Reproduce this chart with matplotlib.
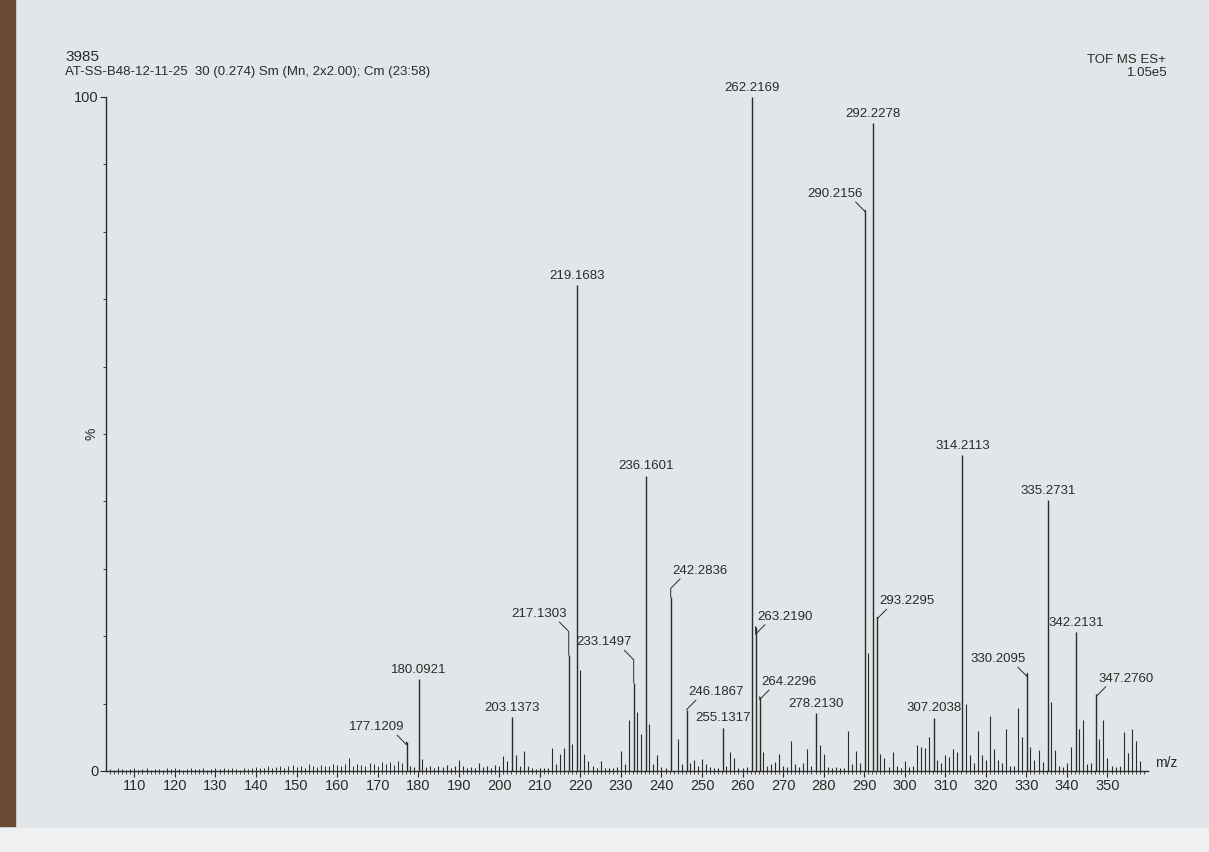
import numpy as np
import matplotlib
matplotlib.use('Agg')
import matplotlib.pyplot as plt
from matplotlib.patches import Rectangle

plt.rcParams['font.family'] = ['Liberation Sans', 'DejaVu Sans']

# labelled peaks: m/z label text and relative intensity (%)
peak_labels = ['177.1209', '180.0921', '203.1373', '217.1303', '219.1683',
               '233.1497', '236.1601', '242.2836', '246.1867', '255.1317',
               '262.2169', '263.2190', '264.2296', '278.2130', '290.2156',
               '292.2278', '293.2295', '307.2038', '314.2113', '330.2095',
               '335.2731', '342.2131', '347.2760']
peak_mz = [float(s) for s in peak_labels]
peak_int = [4.3, 13.6, 8.0, 17.2, 72.1,
            13.1, 43.8, 25.8, 9.1, 6.4,
            100.0, 21.4, 11.0, 8.6, 83.2,
            96.1, 22.8, 7.9, 46.9, 14.5,
            40.2, 20.6, 11.3]

# smaller unlabelled peaks
minor_mz = [178, 179, 181, 182, 183, 184, 185, 186, 187, 188, 189, 190, 191,
            192, 193, 194, 195, 196, 197, 198, 199, 200, 201, 202, 204, 205,
            206, 207, 208, 209, 210, 211, 212, 213, 214, 215, 216, 218, 220,
            221, 222, 223, 224, 225, 226, 227, 228, 229, 230, 231, 232, 234,
            235, 237, 238, 239, 240, 241, 244, 245, 247, 248, 249, 250, 251,
            252, 253, 254, 256, 257, 258, 259, 260, 261, 265, 266, 267, 268,
            269, 270, 271, 272, 273, 274, 275, 276, 277, 279, 280, 281, 282,
            283, 284, 285, 286, 287, 288, 289, 291, 294, 295, 296, 297, 298,
            299, 300, 301, 302, 303, 304, 305, 306, 308, 309, 310, 311, 312,
            313, 315, 316, 317, 318, 319, 320, 321, 322, 323, 324, 325, 326,
            327, 328, 329, 331, 332, 333, 334, 336, 337, 338, 339, 340, 341,
            343, 344, 345, 346, 348, 349, 350, 351, 352, 353, 354, 355, 356,
            357, 358]
minor_int = [0.8, 0.6, 1.8, 0.6, 0.8, 0.5, 0.7, 0.6, 0.9, 0.5, 0.8, 1.6, 0.7,
             0.5, 0.6, 0.4, 1.2, 0.6, 0.7, 0.5, 0.9, 0.7, 2.2, 1.5, 2.4, 0.8,
             3.0, 0.8, 0.4, 0.3, 0.4, 0.5, 0.4, 3.4, 1.0, 2.5, 3.4, 4.0, 15.0,
             2.5, 1.5, 0.8, 0.5, 1.5, 0.5, 0.4, 0.5, 0.6, 3.0, 1.0, 7.5, 8.8,
             5.5, 7.0, 1.0, 2.4, 0.6, 0.5, 4.8, 1.0, 1.2, 1.6, 0.8, 1.8, 1.0,
             0.6, 0.5, 0.4, 0.8, 2.8, 2.0, 0.5, 0.4, 0.6, 2.8, 0.8, 1.0, 1.4,
             2.5, 0.8, 0.6, 4.5, 1.0, 0.6, 1.2, 3.2, 0.8, 3.8, 2.5, 0.6, 0.5,
             0.6, 0.4, 0.5, 6.0, 1.0, 3.0, 1.2, 17.5, 2.5, 2.0, 0.6, 2.8, 0.8,
             0.5, 1.5, 0.6, 0.8, 3.8, 3.6, 3.4, 5.0, 1.6, 1.2, 2.3, 2.1, 3.2,
             2.8, 10.0, 2.4, 1.2, 6.0, 2.4, 1.6, 8.2, 3.3, 1.6, 1.2, 6.2, 0.8,
             0.8, 9.3, 5.0, 3.6, 1.6, 3.1, 1.4, 10.2, 3.1, 0.8, 0.6, 1.2, 3.6,
             6.2, 7.6, 1.0, 1.2, 4.8, 7.6, 2.0, 0.8, 0.6, 0.8, 5.8, 2.6, 6.2,
             4.5, 1.5]

# baseline noise for m/z 104..176
noise_mz = list(range(104, 177))
noise_int = [0.3, 0.2, 0.4, 0.3, 0.2, 0.3, 0.5, 0.2, 0.3, 0.4, 0.2, 0.3, 0.3, 0.2, 0.4, 0.3,
             0.4, 0.3, 0.2, 0.3, 0.5, 0.3, 0.3, 0.4, 0.2, 0.3, 0.4, 0.3, 0.5, 0.3, 0.4, 0.3, 0.2, 0.4, 0.3, 0.5,
             0.6, 0.4, 0.5, 0.7, 0.4, 0.6, 0.8, 0.5, 0.7, 0.9, 0.6, 0.8, 0.5, 1.0, 0.7, 0.6, 0.9, 0.7, 0.8, 1.1,
             0.9, 0.7, 1.0, 1.9, 0.8, 1.1, 0.9, 0.7, 1.2, 1.0, 0.8, 1.3, 1.1, 1.4, 0.9, 1.5, 1.2]

# label layout: side (-1 left, 0 above, +1 right) and label bottom (%) for shifted labels
label_side = [-1, 0, 0, -1, 0, -1, 0, 1, 1, 0, 0, 1, 1, 0, -1, 0, 1, 0, 0, -1, 0, 0, 1]
label_bottom = [5.6, None, None, 22.4, None, 18.2, None, 28.8, 10.8, None, None, 22.0,
                12.3, None, 84.7, None, 24.3, None, None, 15.7, None, None, 12.8]

ink = '#2b2b2b'
paper = '#e3e6e8'

fig = plt.figure(figsize=(12.09, 8.52), dpi=100, facecolor=paper)
fig.patches.append(Rectangle((0, 0.03), 0.012, 0.97, transform=fig.transFigure,
                             color='#6a4a33', zorder=0))
fig.patches.append(Rectangle((0, 0), 1, 0.028, transform=fig.transFigure,
                             color='#eef0f1', zorder=0))
ax = fig.add_axes([106/1209, 1 - 771/852, 1042/1209, 674/852])
ax.set_facecolor('none')

ax.vlines(noise_mz, 0, noise_int, color=ink, lw=0.7)
ax.vlines(minor_mz, 0, minor_int, color=ink, lw=0.8)
ax.vlines(peak_mz, 0, peak_int, color=ink, lw=1.0)

for lab, mz, h, side, yb in zip(peak_labels, peak_mz, peak_int, label_side, label_bottom):
    if side == 0:
        ax.text(mz, h + 0.5, lab, ha='center', va='bottom', fontsize=9.5,
                color=ink, clip_on=False)
    else:
        xt = mz + side * 7.3
        ax.text(xt, yb, lab, ha='center', va='bottom', fontsize=9.5, color=ink)
        ax.plot([mz + side * 2.3, mz, mz], [yb - 0.3, yb - 1.7, h],
                color=ink, lw=0.7)

ax.set_xlim(103.0, 360.0)
ax.set_ylim(0, 100)
for s in ['top', 'right']:
    ax.spines[s].set_visible(False)
for s in ['left', 'bottom']:
    ax.spines[s].set_color(ink)
    ax.spines[s].set_linewidth(1.0)

ax.set_xticks(np.arange(110, 351, 10))
ax.set_xticks(np.arange(104, 360, 1), minor=True)
ax.set_yticks([0, 100])
ax.set_yticks(np.arange(10, 100, 10), minor=True)
ax.tick_params(axis='both', which='major', length=4, width=0.8, color=ink,
               labelsize=10.5, labelcolor=ink, pad=1.5)
ax.tick_params(axis='both', which='minor', length=2.5, width=0.6, color=ink)

ax.text(-0.014, 0.5, '%', transform=ax.transAxes, rotation=90,
        ha='center', va='center', fontsize=10, color=ink)
ax.text(361.8, 1.2, 'm/z', ha='left', va='center', fontsize=10, color=ink,
        clip_on=False)

fig.text(65/1209, 1 - 57/852, '3985', fontsize=11, color=ink, va='center')
fig.text(65/1209, 1 - 72/852,
         'AT-SS-B48-12-11-25  30 (0.274) Sm (Mn, 2x2.00); Cm (23:58)',
         fontsize=9.5, color=ink, va='center')
fig.text(1166/1209, 1 - 60/852, 'TOF MS ES+', fontsize=9.5, color=ink,
         ha='right', va='center')
fig.text(1168/1209, 1 - 73/852, '1.05e5', fontsize=9.5, color=ink,
         ha='right', va='center')

fig.savefig('out.png', dpi=100, facecolor=paper)
